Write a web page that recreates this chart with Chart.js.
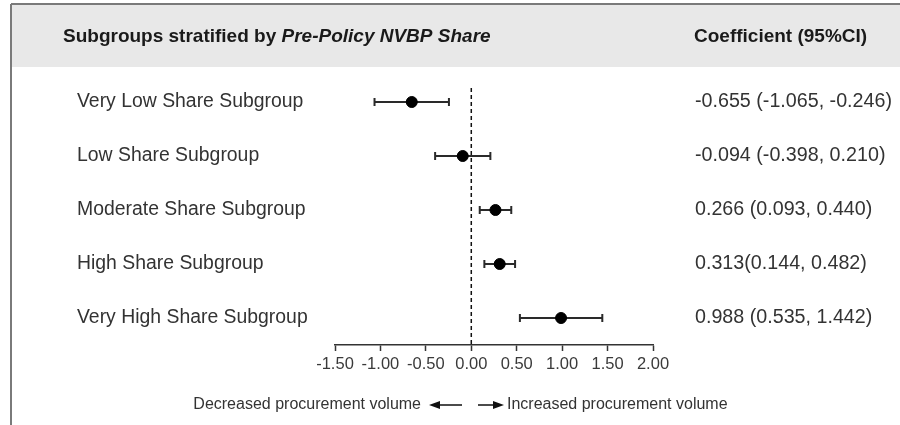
<!DOCTYPE html>
<html>
<head>
<meta charset="utf-8">
<script src="https://cdn.jsdelivr.net/npm/chart.js@4.4.1/dist/chart.umd.min.js"></script>
<style>
html,body{margin:0;padding:0;background:#fff;}
#wrap{width:900px;height:425px;position:relative;}
</style>
</head>
<body>
<div id="wrap"><canvas id="c" width="900" height="425"></canvas></div>
<script>
// ---- data ----
const subgroups = [
  "Very Low Share Subgroup",
  "Low Share Subgroup",
  "Moderate Share Subgroup",
  "High Share Subgroup",
  "Very High Share Subgroup"
];
const coefficients = [-0.655, -0.094, 0.266, 0.313, 0.988];
const lowerCI = [-1.065, -0.398, 0.093, 0.144, 0.535];
const upperCI = [-0.246, 0.210, 0.440, 0.482, 1.442];
const coefLabels = [
  "-0.655 (-1.065, -0.246)",
  "-0.094 (-0.398, 0.210)",
  "0.266 (0.093, 0.440)",
  "0.313(0.144, 0.482)",
  "0.988 (0.535, 1.442)"
];
const xTicks = [-1.5, -1.0, -0.5, 0.0, 0.5, 1.0, 1.5, 2.0];
const headerLeft = "Subgroups stratified by ";
const headerItalic = "Pre-Policy NVBP Share";
const headerRight = "Coefficient (95%CI)";
const leftNote = "Decreased procurement volume";
const rightNote = "Increased procurement volume";

const FONT = "'Liberation Sans', Arial, sans-serif";

const framePlugin = {
  id: 'frame',
  beforeDraw(chart) {
    const ctx = chart.ctx;
    ctx.save();
    // header band
    ctx.fillStyle = '#e8e8e8';
    ctx.fillRect(11, 5, 889, 62);
    // border lines
    ctx.strokeStyle = '#7a7a7a';
    ctx.lineWidth = 2;
    ctx.beginPath();
    ctx.moveTo(11, 4); ctx.lineTo(900, 4);
    ctx.moveTo(11, 4); ctx.lineTo(11, 425);
    ctx.stroke();
    // header text
    ctx.fillStyle = '#1a1a1a';
    ctx.textBaseline = 'middle';
    ctx.textAlign = 'left';
    ctx.font = "bold 19px " + FONT;
    ctx.fillText(headerLeft, 63, 37);
    const w = ctx.measureText(headerLeft).width;
    ctx.font = "italic bold 19px " + FONT;
    ctx.fillText(headerItalic, 63 + w, 37);
    ctx.font = "bold 19px " + FONT;
    ctx.fillText(headerRight, 694, 37);
    ctx.restore();
  },
  beforeDatasetsDraw(chart) {
    const ctx = chart.ctx;
    const xs = chart.scales.x, ys = chart.scales.y;
    ctx.save();
    // dashed reference line at 0
    const x0 = xs.getPixelForValue(0);
    ctx.strokeStyle = '#111';
    ctx.lineWidth = 1.5;
    ctx.setLineDash([4, 3]);
    ctx.beginPath();
    ctx.moveTo(x0, 88);
    ctx.lineTo(x0, chart.chartArea.bottom);
    ctx.stroke();
    ctx.setLineDash([]);
    // error bars
    ctx.strokeStyle = '#2a2a2a';
    ctx.lineWidth = 2;
    for (let i = 0; i < subgroups.length; i++) {
      const y = ys.getPixelForValue(i);
      const a = xs.getPixelForValue(lowerCI[i]);
      const b = xs.getPixelForValue(upperCI[i]);
      ctx.beginPath();
      ctx.moveTo(a, y); ctx.lineTo(b, y);
      ctx.moveTo(a, y - 4); ctx.lineTo(a, y + 4);
      ctx.moveTo(b, y - 4); ctx.lineTo(b, y + 4);
      ctx.stroke();
    }
    ctx.restore();
  },
  afterDraw(chart) {
    const ctx = chart.ctx;
    ctx.save();
    ctx.fillStyle = '#333';
    ctx.strokeStyle = '#111';
    ctx.textBaseline = 'middle';
    ctx.font = "16px " + FONT;
    const y = 405;
    ctx.textAlign = 'right';
    ctx.fillText(leftNote, 421, y);
    ctx.textAlign = 'left';
    ctx.fillText(rightNote, 507, y);
    // arrows
    ctx.fillStyle = '#111';
    ctx.lineWidth = 1.5;
    ctx.beginPath();
    ctx.moveTo(438, y); ctx.lineTo(462, y);
    ctx.moveTo(478, y); ctx.lineTo(496, y);
    ctx.stroke();
    ctx.beginPath();
    ctx.moveTo(429, y); ctx.lineTo(440, y - 4); ctx.lineTo(440, y + 4); ctx.closePath();
    ctx.fill();
    ctx.beginPath();
    ctx.moveTo(504, y); ctx.lineTo(493, y - 4); ctx.lineTo(493, y + 4); ctx.closePath();
    ctx.fill();
    ctx.restore();
  }
};

new Chart(document.getElementById('c'), {
  type: 'scatter',
  data: {
    datasets: [{
      data: coefficients.map((v, i) => ({ x: v, y: subgroups[i] })),
      backgroundColor: '#000',
      borderColor: '#000',
      pointRadius: 5.5,
      pointHoverRadius: 5.5
    }]
  },
  options: {
    responsive: false,
    animation: false,
    events: [],
    layout: { padding: { left: 77, right: 0, top: 75, bottom: 50 } },
    plugins: { legend: { display: false }, tooltip: { enabled: false } },
    scales: {
      x: {
        type: 'linear',
        min: xTicks[0],
        max: xTicks[xTicks.length - 1],
        afterBuildTicks(scale) { scale.ticks = xTicks.map(v => ({ value: v })); },
        afterFit(scale) { scale.height = 30; },
        border: { display: true, color: '#333', width: 1.5 },
        grid: { drawOnChartArea: false, drawTicks: true, tickLength: 6, color: '#333', tickWidth: 1.5 },
        ticks: {
          color: '#3a3a3a',
          font: { family: FONT, size: 16.5 },
          padding: 4,
          maxRotation: 0,
          autoSkip: false,
          callback: (v) => Number(v).toFixed(2)
        }
      },
      y: {
        type: 'category',
        labels: subgroups,
        offset: true,
        position: 'left',
        afterFit(scale) { scale.width = 258; },
        border: { display: false },
        grid: { display: false, drawTicks: false },
        ticks: { crossAlign: 'far', color: '#333', font: { family: FONT, size: 19.4 }, padding: 0 }
      },
      y2: {
        type: 'category',
        labels: coefLabels,
        offset: true,
        position: 'right',
        afterFit(scale) { scale.width = 247; },
        border: { display: false },
        grid: { display: false, drawTicks: false },
        ticks: { crossAlign: 'near', color: '#333', font: { family: FONT, size: 19.7 }, padding: 42 }
      }
    }
  },
  plugins: [framePlugin]
});
</script>
</body>
</html>
